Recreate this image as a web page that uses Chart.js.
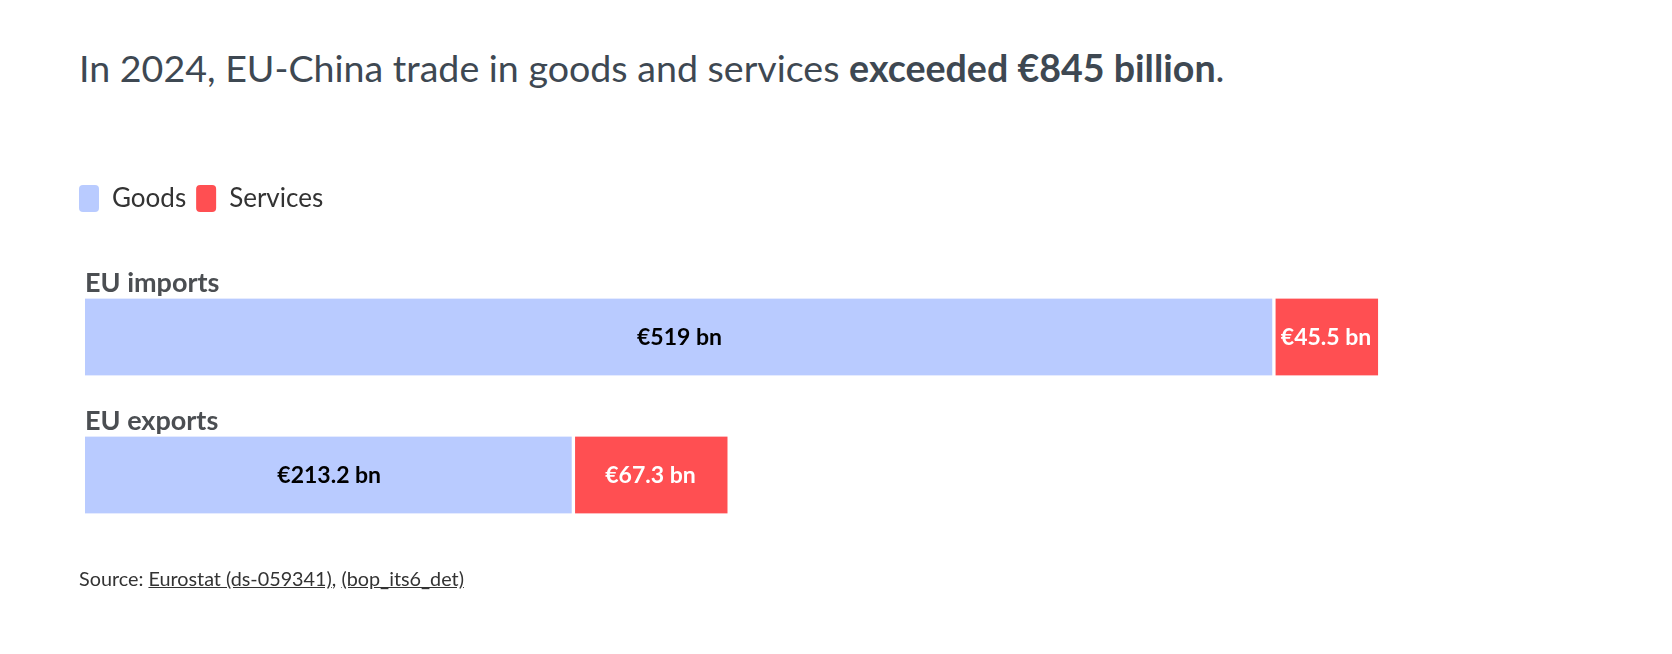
<!DOCTYPE html>
<html>
<head>
<meta charset="utf-8">
<script src="https://cdn.jsdelivr.net/npm/chart.js@4.4.1/dist/chart.umd.min.js"></script>
<style>
  html, body { margin: 0; padding: 0; background: #fff; }
  #wrap { position: relative; width: 1672px; height: 654px; overflow: hidden; }
  #title { position: absolute; left: 79px; top: 45px; font-family: Lato, sans-serif; font-size: 37.6px; color: #3e4852; white-space: nowrap; font-weight: 400; }
  #title b { font-weight: 700; }
  #source { position: absolute; left: 79px; top: 566px; font-family: Lato, sans-serif; font-size: 19.8px; color: #333; white-space: nowrap; }
  #source u { text-decoration: underline; }
  canvas { position: absolute; left: 0; top: 0; }
</style>
</head>
<body>
<div id="wrap">
  <div id="title">In 2024, EU-China trade in goods and services <b>exceeded €845 billion</b>.</div>
  <canvas id="c" width="1672" height="654"></canvas>
  <div id="source">Source: <u>Eurostat (ds-059341)</u>, <u>(bop_its6_det)</u></div>
</div>
<script>
const categories = ['EU imports', 'EU exports'];
const goods = [519, 213.2];
const services = [45.5, 67.3];
const goodsLabels = ['€519 bn', '€213.2 bn'];
const servicesLabels = ['€45.5 bn', '€67.3 bn'];

const FONT = 'Lato, sans-serif';

const labelsPlugin = {
  id: 'barLabels',
  afterDatasetsDraw(chart) {
    const ctx = chart.ctx;
    ctx.save();
    // category labels above bars
    ctx.font = 'bold 27px ' + FONT;
    ctx.fillStyle = '#4b4e52';
    ctx.textAlign = 'left';
    ctx.textBaseline = 'alphabetic';
    const meta0 = chart.getDatasetMeta(0);
    categories.forEach((c, i) => {
      const el = meta0.data[i];
      const top = el.y - el.height / 2;
      ctx.fillText(c, chart.chartArea.left, top - 7);
    });
    // value labels
    const texts = [goodsLabels, servicesLabels];
    const colors = ['#000', '#fff'];
    ctx.font = 'bold 23px ' + FONT;
    ctx.textAlign = 'center';
    ctx.textBaseline = 'middle';
    chart.data.datasets.forEach((ds, di) => {
      const meta = chart.getDatasetMeta(di);
      meta.data.forEach((el, i) => {
        ctx.fillStyle = colors[di];
        ctx.fillText(texts[di][i], (el.x + el.base) / 2, el.y + 1);
      });
    });
    ctx.restore();
  }
};

new Chart(document.getElementById('c'), {
  type: 'bar',
  data: {
    labels: categories,
    datasets: [
      { label: 'Goods', data: goods, backgroundColor: '#b9cbff', borderColor: '#ffffff',
        borderWidth: { top: 0, right: 2, bottom: 0, left: 0 }, borderSkipped: false, barThickness: 77 },
      { label: 'Services', data: services, backgroundColor: '#ff4f52', borderColor: '#ffffff',
        borderWidth: { top: 0, right: 0, bottom: 0, left: 2 }, borderSkipped: false, barThickness: 77 }
    ]
  },
  options: {
    indexAxis: 'y',
    responsive: false,
    animation: false,
    layout: { padding: { top: 175, left: 69, right: 98, bottom: 110 } },
    scales: {
      x: { stacked: true, min: 0, max: 650, position: 'top',
           grid: { display: false }, border: { display: false }, ticks: { display: false },
           afterFit(s) { s.height = 46; } },
      y: { stacked: true, grid: { display: false }, border: { display: false }, ticks: { display: false },
           afterFit(s) { s.width = 16; } }
    },
    plugins: {
      tooltip: { enabled: false },
      legend: {
        position: 'top', align: 'start',
        labels: {
          font: { family: FONT, size: 26 }, color: '#333',
          boxWidth: 20, boxHeight: 27, padding: 10,
          useBorderRadius: true, borderRadius: 4,
          generateLabels(chart) {
            const items = Chart.defaults.plugins.legend.labels.generateLabels(chart);
            items.forEach(it => { it.lineWidth = 0; it.strokeStyle = 'rgba(0,0,0,0)'; });
            return items;
          }
        }
      }
    }
  },
  plugins: [labelsPlugin]
});
</script>
</body>
</html>
